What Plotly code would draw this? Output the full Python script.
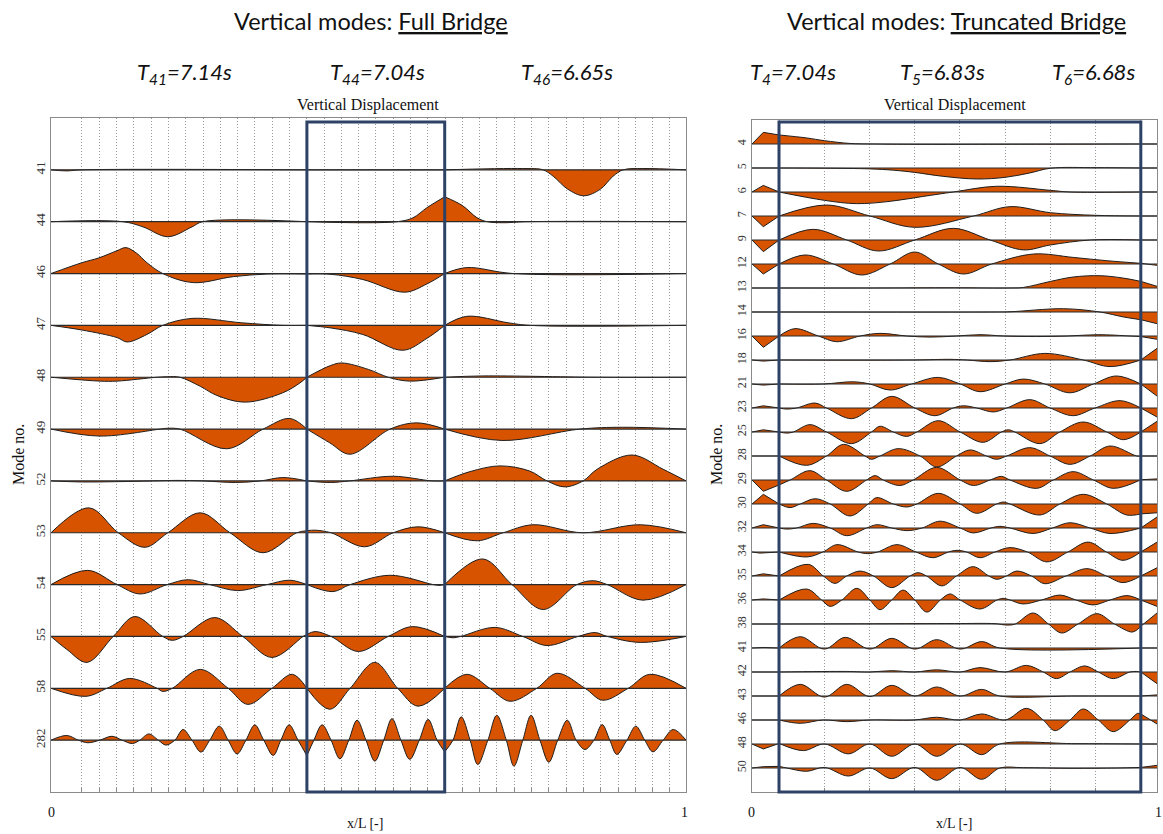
import plotly.graph_objects as go

# ---------------- DATA ----------------
# Full bridge: mode numbers (top -> bottom) and normalised vertical displacement
# shapes as (x/L, displacement) pairs (1.0 = largest lobe)
FULL_MODES = [41, 44, 46, 47, 48, 49, 52, 53, 54, 55, 58, 282]

FULL_41 = [(0, 0), (0.024, -0.04), (0.049, 0), (0.403, 0), (0.62, 0), (0.743, 0.05), (0.775, 0),
           (0.791, -0.25), (0.814, -0.75), (0.839, -1.0), (0.865, -0.75), (0.885, -0.25),
           (0.901, 0), (0.932, 0.05), (1, 0)]
FULL_44 = [(0, 0), (0.113, 0), (0.145, -0.2), (0.184, -0.58), (0.222, -0.2), (0.239, 0),
           (0.403, 0), (0.545, 0), (0.57, 0.15), (0.592, 0.54), (0.62, 0.96), (0.648, 0.62),
           (0.671, 0.15), (0.687, 0), (0.712, -0.04), (0.75, 0), (1, 0)]
FULL_46 = [(0, 0), (0.049, 0.42), (0.075, 0.6), (0.104, 0.88), (0.118, 1.0), (0.135, 0.78),
           (0.151, 0.42), (0.176, 0), (0.224, -0.35), (0.287, -0.12), (0.340, -0.02),
           (0.403, -0.02), (0.441, -0.03), (0.491, -0.23), (0.557, -0.72), (0.592, -0.4),
           (0.62, 0), (0.655, 0.23), (0.728, 0), (1, 0)]
FULL_47 = [(0, 0), (0.049, -0.18), (0.104, -0.47), (0.12, -0.64), (0.151, -0.35), (0.176, 0),
           (0.222, 0.27), (0.30, 0.1), (0.365, 0), (0.403, 0), (0.441, -0.1), (0.491, -0.35),
           (0.554, -0.96), (0.592, -0.5), (0.62, 0), (0.655, 0.35), (0.72, 0.1), (0.754, 0), (1, 0)]
FULL_48 = [(0, 0), (0.077, -0.15), (0.104, -0.15), (0.167, 0), (0.184, 0.02), (0.203, 0),
           (0.235, -0.35), (0.261, -0.7), (0.306, -0.96), (0.365, -0.6), (0.392, -0.22),
           (0.403, 0), (0.44, 0.45), (0.458, 0.55), (0.50, 0.3), (0.531, 0), (0.565, -0.15),
           (0.62, 0), (0.68, 0.05), (0.86, 0), (1, 0)]
FULL_49 = [(0, 0), (0.077, -0.27), (0.172, 0), (0.183, 0.03), (0.203, 0), (0.277, -0.76),
           (0.334, 0), (0.376, 0.41), (0.403, 0), (0.439, -0.53), (0.471, -0.97), (0.534, 0),
           (0.576, 0.24), (0.62, 0), (0.71, -0.44), (0.833, 0), (0.9, 0.07), (1, 0)]
FULL_52 = [(0, 0), (0.05, -0.04), (0.10, -0.03), (0.16, 0), (0.2, 0.02), (0.24, 0),
           (0.29, -0.06), (0.33, 0), (0.365, 0.13), (0.403, 0), (0.44, -0.06), (0.47, 0),
           (0.539, 0.18), (0.60, 0), (0.62, 0), (0.66, 0.36), (0.707, 0.58), (0.754, 0.38),
           (0.781, 0), (0.809, -0.23), (0.838, 0), (0.86, 0.45), (0.915, 1.0), (0.964, 0.45), (1, 0)]
FULL_53 = [(0, 0), (0.06, 0.96), (0.106, 0), (0.148, -0.56), (0.184, 0), (0.235, 0.77),
           (0.282, 0), (0.334, -0.77), (0.387, 0), (0.403, 0.08), (0.416, 0.1), (0.441, 0),
           (0.494, -0.54), (0.539, 0), (0.578, 0.23), (0.62, 0), (0.671, -0.31), (0.712, 0),
           (0.759, 0.31), (0.838, 0), (0.928, 0.31), (1, 0)]
FULL_54 = [(0, 0), (0.058, 0.55), (0.104, 0), (0.140, -0.36), (0.183, 0), (0.216, 0.19),
           (0.250, 0), (0.294, -0.23), (0.340, 0), (0.376, 0.17), (0.403, 0), (0.444, -0.27),
           (0.471, 0), (0.534, 0.36), (0.602, 0), (0.611, -0.03), (0.62, 0), (0.68, 0.99),
           (0.726, 0), (0.775, -0.96), (0.828, 0), (0.854, 0.15), (0.876, 0), (0.932, -0.6), (1, 0)]
FULL_55 = [(0, 0), (0.025, -0.5), (0.057, -1.0), (0.098, 0), (0.132, 0.77), (0.176, 0),
           (0.191, -0.15), (0.208, 0), (0.258, 0.73), (0.302, 0), (0.348, -0.81), (0.397, 0),
           (0.403, 0.08), (0.416, 0.19), (0.441, 0), (0.484, -0.58), (0.531, 0), (0.569, 0.38),
           (0.62, 0), (0.633, -0.05), (0.645, 0), (0.699, 0.35), (0.743, 0), (0.781, -0.35),
           (0.830, 0), (0.857, 0.15), (0.876, 0), (0.928, -0.23), (1, 0)]
FULL_58 = [(0, 0), (0.055, -0.31), (0.088, 0), (0.124, 0.38), (0.167, 0), (0.176, -0.12),
           (0.191, 0), (0.235, 0.73), (0.279, 0), (0.310, -0.62), (0.348, 0), (0.380, 0.54),
           (0.403, 0), (0.439, -0.81), (0.471, 0), (0.510, 1.0), (0.546, 0), (0.578, -0.69),
           (0.62, 0), (0.655, 0.54), (0.691, 0), (0.723, -0.5), (0.765, 0), (0.797, 0.58),
           (0.841, 0), (0.869, -0.46), (0.909, 0), (0.943, 0.54), (1, 0)]
FULL_282 = [(0, 0), (0.025, 0.18), (0.043, 0), (0.058, -0.1), (0.077, 0), (0.096, 0.15),
            (0.112, 0), (0.128, -0.13), (0.140, 0), (0.154, 0.24), (0.169, 0), (0.181, -0.19),
            (0.195, 0), (0.208, 0.41), (0.222, 0), (0.236, -0.46), (0.250, 0), (0.265, 0.54),
            (0.279, 0), (0.293, -0.53), (0.307, 0), (0.321, 0.59), (0.335, 0), (0.350, -0.59),
            (0.362, 0), (0.375, 0.59), (0.389, 0), (0.403, -0.6), (0.414, 0), (0.427, 0.59),
            (0.441, 0), (0.455, -0.72), (0.469, 0), (0.482, 0.77), (0.496, 0), (0.510, -0.81),
            (0.524, 0), (0.537, 0.83), (0.551, 0), (0.565, -0.74), (0.580, 0), (0.594, 0.8),
            (0.608, 0), (0.62, -0.45), (0.633, 0), (0.646, 0.9), (0.660, 0), (0.672, -0.94),
            (0.688, 0), (0.702, 0.96), (0.717, 0), (0.729, -1.0), (0.743, 0), (0.756, 0.96),
            (0.770, 0), (0.784, -0.85), (0.798, 0), (0.813, 0.77), (0.827, 0), (0.841, -0.36),
            (0.855, 0), (0.868, 0.6), (0.880, 0), (0.891, -0.55), (0.907, 0), (0.921, 0.54),
            (0.935, 0), (0.948, -0.45), (0.964, 0), (0.980, 0.41), (1, 0)]

# Truncated bridge
TRUNC_MODES = [4, 5, 6, 7, 9, 12, 13, 14, 16, 18, 21, 23, 25, 28, 29, 30, 32, 34, 35, 36,
               38, 41, 42, 43, 46, 48, 50]

TR_4 = [(0, 0), (0.028, 1.06), (0.067, 0.82), (0.135, 0.55), (0.179, 0.3), (0.242, 0.05),
        (0.3, 0), (0.4, -0.03), (0.7, -0.02), (0.96, 0), (1, 0)]
TR_5 = [(0, 0), (0.067, 0), (0.179, -0.02), (0.291, -0.08), (0.35, -0.2), (0.402, -0.4),
        (0.47, -0.75), (0.555, -1.0), (0.625, -0.85), (0.686, -0.45), (0.737, -0.02),
        (0.85, 0.03), (0.96, 0), (1, 0)]
TR_6 = [(0, 0), (0.028, 0.6), (0.067, 0), (0.179, -0.76), (0.258, -1.06), (0.341, -0.85),
        (0.423, -0.4), (0.497, 0), (0.604, 0.52), (0.737, 0.15), (0.785, 0), (0.96, 0), (1, 0)]
TR_7 = [(0, 0), (0.028, -0.97), (0.067, 0), (0.184, 1.0), (0.291, 0), (0.402, -1.03),
        (0.547, 0), (0.637, 0.85), (0.737, 0.3), (0.849, 0.06), (0.96, 0), (1, 0)]
TR_9 = [(0, 0), (0.028, -1.06), (0.067, 0), (0.151, 0.97), (0.234, 0), (0.312, -1.0),
        (0.402, 0), (0.497, 1.06), (0.588, 0), (0.670, -0.9), (0.737, -0.45), (0.835, 0),
        (0.96, 0), (1, 0)]
TR_12 = [(0, 0), (0.028, -0.91), (0.067, 0), (0.131, 0.82), (0.201, 0), (0.271, -1.0),
         (0.341, 0), (0.402, 1.09), (0.460, 0), (0.522, -0.91), (0.592, 0), (0.695, 0.91),
         (0.793, 0.6), (0.876, 0.3), (0.96, 0.06), (1, -0.12)]
TR_13 = [(0, 0), (0.067, 0), (0.3, 0), (0.5, 0.02), (0.637, 0), (0.670, 0.05), (0.737, 0.6),
         (0.793, 1.0), (0.859, 1.12), (0.917, 0.9), (0.96, 0.6), (1, 0.15)]
TR_14 = [(0, 0), (0.067, 0), (0.6, 0), (0.637, 0.02), (0.769, 0.3), (0.859, 0),
         (0.917, -0.45), (0.96, -0.7), (1, -1.06)]
TR_16 = [(0, 0), (0.028, -1.03), (0.067, 0), (0.106, 0.67), (0.164, 0), (0.209, -0.52),
         (0.267, 0), (0.316, 0.24), (0.382, 0), (0.440, -0.1), (0.505, 0), (0.563, 0.12),
         (0.621, 0), (0.70, -0.05), (0.78, 0), (0.855, 0.12), (0.933, 0), (0.96, -0.05), (1, -0.3)]
TR_18 = [(0, 0), (0.028, -0.1), (0.067, 0), (0.4, 0), (0.489, 0.06), (0.53, 0), (0.588, -0.15),
         (0.637, 0), (0.723, 0.6), (0.818, 0), (0.884, -0.6), (0.96, 0), (1, 1.06)]
TR_21 = [(0, 0), (0.028, -0.1), (0.067, 0), (0.176, 0), (0.250, 0.2), (0.291, 0),
         (0.341, -0.55), (0.394, 0), (0.460, 0.6), (0.514, 0), (0.563, -0.7), (0.625, 0),
         (0.670, 0.45), (0.723, 0), (0.785, -0.8), (0.843, 0), (0.900, 0.73), (0.96, 0), (1, -1.1)]
TR_23 = [(0, 0), (0.028, 0.2), (0.067, 0), (0.086, -0.1), (0.110, 0), (0.156, 0.45),
         (0.184, 0), (0.246, -0.97), (0.295, 0), (0.345, 1.06), (0.402, 0), (0.452, -0.7),
         (0.497, 0), (0.522, 0.2), (0.555, 0), (0.596, -0.36), (0.629, 0), (0.686, 0.76),
         (0.736, 0), (0.793, -0.7), (0.847, 0), (0.909, 0.67), (0.96, 0), (1, -0.82)]
TR_25 = [(0, 0), (0.028, 0.2), (0.067, 0), (0.086, -0.1), (0.102, 0), (0.143, 0.67),
         (0.184, 0), (0.246, -1.06), (0.295, 0), (0.316, 0.52), (0.349, 0), (0.382, -0.4),
         (0.407, 0), (0.460, 1.03), (0.514, 0), (0.571, -0.94), (0.616, 0), (0.633, 0.2),
         (0.649, 0), (0.711, -1.06), (0.760, 0), (0.818, 0.91), (0.876, 0), (0.917, -0.7),
         (0.96, 0), (1, 0.97)]
TR_28 = [(0, 0), (0.067, 0), (0.135, -0.85), (0.184, 0), (0.226, 1.06), (0.279, 0),
         (0.295, -0.3), (0.316, 0), (0.361, 0.67), (0.415, 0), (0.456, -1.0), (0.505, 0),
         (0.538, 0.55), (0.579, 0), (0.604, -0.3), (0.629, 0), (0.686, 0.76), (0.736, 0),
         (0.785, -0.76), (0.835, 0), (0.884, 0.91), (0.950, 0), (0.96, 0), (1, 0)]
TR_29 = [(0, 0), (0.028, -1.03), (0.067, -0.45), (0.094, 0), (0.143, 0.85), (0.184, 0),
         (0.234, -1.03), (0.283, 0), (0.304, 0.4), (0.324, 0), (0.365, -0.5), (0.398, 0),
         (0.456, 1.15), (0.514, 0), (0.547, -0.5), (0.588, 0), (0.616, 0.33), (0.637, 0),
         (0.703, -0.76), (0.744, 0), (0.793, 0.76), (0.843, 0), (0.892, -0.76), (0.96, 0.02), (1, 0.1)]
TR_30 = [(0, 0), (0.028, 0.88), (0.067, 0), (0.094, -0.33), (0.119, 0), (0.156, 0.48),
         (0.193, 0), (0.242, -1.09), (0.287, 0), (0.308, 0.58), (0.349, 0), (0.382, -0.27),
         (0.407, 0), (0.460, 0.97), (0.514, 0), (0.555, -0.85), (0.604, 0), (0.621, 0.18),
         (0.637, 0), (0.711, -1.0), (0.760, 0), (0.818, 0.88), (0.876, 0), (0.925, -1.0),
         (0.96, -0.9), (1, -0.8)]
TR_32 = [(0, 0), (0.028, 0.3), (0.067, 0), (0.086, -0.1), (0.110, 0), (0.151, 0.42),
         (0.193, 0), (0.234, -0.7), (0.283, 0), (0.309, 0.3), (0.345, 0), (0.383, -0.24),
         (0.420, 0), (0.464, 0.62), (0.514, 0), (0.546, -0.45), (0.590, 0), (0.612, 0.15),
         (0.637, 0), (0.694, -0.5), (0.742, 0), (0.785, 0.48), (0.835, 0), (0.884, -0.5),
         (0.96, 0), (1, 1.0)]
TR_34 = [(0, 0), (0.02, -0.1), (0.067, 0), (0.136, -0.45), (0.175, 0), (0.21, 0.67),
         (0.262, 0), (0.286, -0.15), (0.310, 0), (0.358, 0.67), (0.405, 0), (0.447, -0.52),
         (0.485, 0), (0.506, 0.15), (0.530, 0), (0.563, -0.52), (0.600, 0), (0.637, 0.4),
         (0.680, 0), (0.728, -0.9), (0.780, 0), (0.830, 0.9), (0.875, 0), (0.916, -0.76),
         (0.96, 0), (1, 0.9)]
TR_35 = [(0, 0), (0.028, 0.2), (0.067, 0), (0.139, 1.06), (0.176, 0), (0.205, -0.67),
         (0.234, 0), (0.267, 0.45), (0.300, 0), (0.345, -1.06), (0.390, 0), (0.41, 0.3),
         (0.431, 0), (0.469, -0.9), (0.505, 0), (0.546, 0.85), (0.585, 0), (0.605, -0.3),
         (0.628, 0), (0.654, 0.45), (0.690, 0), (0.723, -0.7), (0.775, 0), (0.827, 0.67),
         (0.875, 0), (0.916, -0.6), (0.96, 0), (1, 0.75)]
TR_36 = [(0, 0), (0.028, 0.1), (0.067, 0), (0.135, 1.0), (0.172, 0), (0.193, -0.58),
         (0.222, 0), (0.259, 1.06), (0.291, 0), (0.316, -0.88), (0.345, 0), (0.373, 0.9),
         (0.402, 0), (0.432, -1.1), (0.465, 0), (0.489, 0.55), (0.514, 0), (0.563, -0.82),
         (0.605, 0), (0.620, 0.15), (0.637, 0), (0.669, -0.36), (0.715, 0), (0.760, 0.45),
         (0.800, 0), (0.842, -0.45), (0.884, 0), (0.926, 0.4), (0.96, 0), (1, -0.58)]
TR_38 = [(0, 0), (0.067, 0), (0.3, 0.02), (0.5, 0.04), (0.6, 0.03), (0.63, -0.1), (0.650, 0),
         (0.694, 1.0), (0.732, 0), (0.765, -0.82), (0.805, 0), (0.852, 0.94), (0.895, 0),
         (0.94, -0.73), (0.96, -0.2), (1, 1.0)]
TR_41 = [(0, 0), (0.028, 0.05), (0.067, 0), (0.119, 1.03), (0.179, -0.1), (0.230, 0.97),
         (0.291, -0.1), (0.345, 0.88), (0.402, -0.1), (0.456, 0.76), (0.514, -0.1),
         (0.567, 0.58), (0.612, 0), (0.96, 0), (1, 0)]
TR_42 = [(0, 0), (0.067, 0), (0.234, 0.05), (0.291, 0), (0.345, 0.12), (0.402, 0),
         (0.456, 0.2), (0.514, 0), (0.563, 0.4), (0.625, 0), (0.678, 0.6), (0.719, 0),
         (0.752, -0.6), (0.785, 0), (0.822, 0.55), (0.855, 0), (0.892, -0.6), (0.933, 0),
         (0.950, 0.05), (0.96, 0), (1, -1.06)]
TR_43 = [(0, 0), (0.067, 0), (0.119, 1.06), (0.179, -0.1), (0.234, 1.06), (0.291, -0.05),
         (0.345, 0.97), (0.402, 0), (0.456, 0.82), (0.514, 0), (0.567, 0.6), (0.612, 0),
         (0.8, 0), (0.96, 0), (1, 0.1)]
TR_46 = [(0, 0), (0.067, 0), (0.119, -0.3), (0.176, 0), (0.234, -0.15), (0.291, 0), (0.4, 0),
         (0.456, 0.25), (0.514, 0), (0.567, 0.55), (0.625, 0), (0.678, 1.06), (0.719, 0),
         (0.748, -0.97), (0.785, 0), (0.818, 1.0), (0.855, 0), (0.892, -1.06), (0.933, 0),
         (0.952, 0.6), (0.96, 0.55), (1, -0.36)]
TR_48 = [(0, 0), (0.028, -0.45), (0.067, 0.05), (0.127, -0.6), (0.179, 0), (0.238, -0.9),
         (0.291, 0), (0.345, -1.12), (0.402, 0), (0.456, -1.12), (0.514, 0), (0.567, -0.97),
         (0.612, 0), (0.8, 0.03), (0.96, 0), (1, 0)]
TR_50 = [(0, 0), (0.028, 0.12), (0.067, 0.15), (0.086, 0), (0.135, -0.3), (0.179, 0.05),
         (0.238, -0.73), (0.291, 0), (0.345, -0.97), (0.402, 0.05), (0.456, -1.12),
         (0.514, 0.05), (0.567, -1.03), (0.612, 0), (0.670, 0.03), (0.793, -0.03), (0.9, 0),
         (0.96, 0.05), (1, 0.24)]

FULL_SHAPES = [FULL_41, FULL_44, FULL_46, FULL_47, FULL_48, FULL_49, FULL_52, FULL_53,
               FULL_54, FULL_55, FULL_58, FULL_282]
TRUNC_SHAPES = [TR_4, TR_5, TR_6, TR_7, TR_9, TR_12, TR_13, TR_14, TR_16, TR_18, TR_21, TR_23,
                TR_25, TR_28, TR_29, TR_30, TR_32, TR_34, TR_35, TR_36, TR_38, TR_41, TR_42,
                TR_43, TR_46, TR_48, TR_50]

PERIODS_FULL = [("41", "7.14"), ("44", "7.04"), ("46", "6.65")]
PERIODS_TRUNC = [("4", "7.04"), ("5", "6.83"), ("6", "6.68")]

# ---------------- STYLE ----------------
W, H = 1163, 834
FILL = "#D75300"
EDGE = "#1e1e1e"
BOX = "#2E4266"
SERIF = "Liberation Serif, DejaVu Serif, serif"
SANS = "Lato, Open Sans, sans-serif"


def px(x):
    return x / W


def py(y):
    return 1 - y / H


def split(pts, bounds):
    edges = [0.0] + bounds + [1.0]
    segs = []
    for a, b in zip(edges[:-1], edges[1:]):
        i0 = max(i for i, p in enumerate(pts) if p[0] <= a + 1e-9)
        i1 = min(i for i, p in enumerate(pts) if p[0] >= b - 1e-9)
        segs.append(pts[i0:i1 + 1])
    return segs


fig = go.Figure()


def add_panel(modes, shapes, xa, ya, amp, bounds, seg_shapes):
    n = len(modes)
    for i, pts in enumerate(shapes):
        base = n - 1 - i
        for seg, shp in zip(split(pts, bounds), seg_shapes):
            xs = [p[0] for p in seg]
            ys = [base + amp * p[1] for p in seg]
            fig.add_trace(go.Scatter(x=[xs[0], xs[-1]], y=[base, base], mode="lines",
                                     line=dict(width=0, color="rgba(0,0,0,0)"),
                                     xaxis=xa, yaxis=ya, hoverinfo="skip", showlegend=False))
            fig.add_trace(go.Scatter(x=xs, y=ys, mode="lines", fill="tonexty", fillcolor=FILL,
                                     line=dict(color=EDGE, width=1, shape=shp, smoothing=1.0),
                                     xaxis=xa, yaxis=ya, hoverinfo="skip", showlegend=False))
    # baselines on top
    bx, by = [], []
    for i in range(n):
        bx += [0, 1, None]
        by += [n - 1 - i, n - 1 - i, None]
    fig.add_trace(go.Scatter(x=bx, y=by, mode="lines", line=dict(color="#2a2a2a", width=1.2),
                             xaxis=xa, yaxis=ya, hoverinfo="skip", showlegend=False))


add_panel(FULL_MODES, FULL_SHAPES, "x", "y", 0.5, [0.403, 0.62], ["spline", "spline", "spline"])
add_panel(TRUNC_MODES, TRUNC_SHAPES, "x2", "y2", 0.458, [0.067, 0.96], ["linear", "spline", "linear"])

grid_full = [0.0488 + k * 0.02723 for k in range(35)]
grid_trunc = [0.0667 + k * 0.1117 for k in range(9)]

axis_common = dict(showline=True, linecolor="#8a8a8a", linewidth=1, mirror=True, zeroline=False)

fig.update_layout(
    width=W, height=H, margin=dict(l=0, r=0, t=0, b=0),
    paper_bgcolor="white", plot_bgcolor="white", showlegend=False,
    xaxis=dict(domain=[px(51), px(686)], range=[0, 1], tickvals=grid_full, showticklabels=False,
               ticks="inside", ticklen=4, tickcolor="#8a8a8a",
               showgrid=True, gridcolor="#9a9a9a", griddash="1px,2px", gridwidth=1, **axis_common),
    yaxis=dict(domain=[py(792), py(118)], range=[-1, len(FULL_MODES)],
               tickvals=list(range(len(FULL_MODES) - 1, -1, -1)),
               ticktext=[str(m) for m in FULL_MODES], tickangle=-90,
               tickfont=dict(family=SERIF, size=13, color="#333"), ticks="", showgrid=False,
               **axis_common),
    xaxis2=dict(domain=[px(752), px(1157)], range=[0, 1], tickvals=grid_trunc, showticklabels=False,
                ticks="inside", ticklen=4, tickcolor="#8a8a8a", anchor="y2",
                showgrid=True, gridcolor="#9a9a9a", griddash="1px,2px", gridwidth=1, **axis_common),
    yaxis2=dict(domain=[py(792), py(120)], range=[-1, len(TRUNC_MODES)], anchor="x2",
                tickvals=list(range(len(TRUNC_MODES) - 1, -1, -1)),
                ticktext=[str(m) for m in TRUNC_MODES], tickangle=-90,
                tickfont=dict(family=SERIF, size=12, color="#333"), ticks="", showgrid=False,
                **axis_common),
)

# highlighted boxes
fig.add_shape(type="rect", xref="x", yref="y domain", x0=0.403, x1=0.62, y0=0, y1=0.994,
              line=dict(color=BOX, width=3), layer="above")
fig.add_shape(type="rect", xref="x2", yref="y2 domain", x0=0.0667, x1=0.96, y0=0, y1=0.997,
              line=dict(color=BOX, width=3), layer="above")

ann = []


def text(x, y, s, size, family, color="#111", angle=0, xanchor="center"):
    ann.append(dict(x=px(x), y=py(y), xref="paper", yref="paper", text=s, showarrow=False,
                    font=dict(size=size, family=family, color=color), textangle=angle,
                    xanchor=xanchor, yanchor="middle"))


text(371, 21, "Vertical modes: <u>Full Bridge</u>", 23.5, SANS)
text(956, 21, "Vertical modes: <u>Truncated Bridge</u>", 23.5, SANS)
for (m, t), cx in zip(PERIODS_FULL, [184, 377, 567]):
    text(cx, 73, f"<i>T<sub>{m}</sub>=%ss</i>" % t, 22, SANS)
for (m, t), cx in zip(PERIODS_TRUNC, [793, 942, 1093]):
    text(cx, 73, f"<i>T<sub>{m}</sub>=%ss</i>" % t, 22, SANS)
text(368, 105, "Vertical Displacement", 16, SERIF)
text(955, 105, "Vertical Displacement", 16, SERIF)
text(18, 455, "Mode no.", 16, SERIF, angle=-90)
text(716, 455, "Mode no.", 16, SERIF, angle=-90)
text(51, 812, "0", 14, SERIF)
text(684, 812, "1", 14, SERIF)
text(365, 823, "x/L [-]", 14, SERIF)
text(751, 812, "0", 14, SERIF)
text(1158, 812, "1", 14, SERIF)
text(954, 823, "x/L [-]", 14, SERIF)
fig.update_layout(annotations=ann)

fig.write_html("out.html")
